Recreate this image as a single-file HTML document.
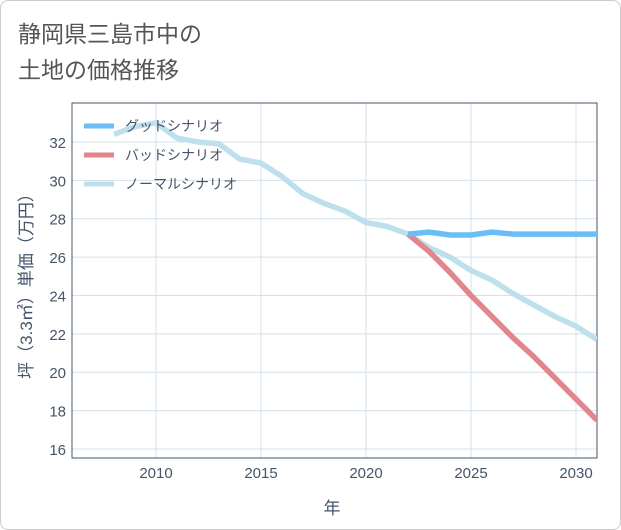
<!DOCTYPE html>
<html><head><meta charset="utf-8"><style>
body{margin:0;background:#fff;font-family:"Liberation Sans","Noto Sans CJK JP",sans-serif}
#card{position:absolute;left:0;top:0;width:619px;height:528px;border:1px solid #ccc;border-radius:8px;background:#fff}
</style></head><body>
<div id="card">
<svg id="chart" width="621" height="530" style="position:absolute;left:-1px;top:-1px"></svg>
</div>
<script>
const years=[2008,2009,2010,2011,2012,2013,2014,2015,2016,2017,2018,2019,2020,2021,2022,2023,2024,2025,2026,2027,2028,2029,2030,2031];
const normal=[32.4,32.8,33.0,32.2,32.0,31.9,31.1,30.9,30.2,29.3,28.8,28.4,27.8,27.6,27.2,26.5,26.0,25.3,24.8,24.1,23.5,22.9,22.4,21.7];
const fYears=[2022,2023,2024,2025,2026,2027,2028,2029,2030,2031];
const good=[27.2,27.3,27.15,27.15,27.3,27.2,27.2,27.2,27.2,27.2];
const bad=[27.2,26.3,25.2,24.0,22.9,21.8,20.8,19.7,18.6,17.5];
const xTicks=[2010,2015,2020,2025,2030];
const yTicks=[16,18,20,22,24,26,28,30,32];
const legendLabels=["グッドシナリオ","バッドシナリオ","ノーマルシナリオ"];
const colors=["#6bbef5","#e0868c","#bde0ec"];
const L=72,R=597,T=103,B=458;
const x=v=>L+(v-2006)*(R-L)/25;
const y=v=>449-(v-16)*19.19;
const svg=document.getElementById('chart');const NS="http://www.w3.org/2000/svg";
function mk(t,a,p){const e=document.createElementNS(NS,t);for(const k in a)e.setAttribute(k,a[k]);(p||svg).appendChild(e);return e;}
let t=mk('text',{x:18,y:42,'font-size':23,fill:'#555'});t.textContent='静岡県三島市中の';

t=mk('text',{x:18,y:78,'font-size':23,fill:'#555'});t.textContent='土地の価格推移';

const clip=mk('clipPath',{id:'c'});mk('rect',{x:L,y:T,width:R-L,height:B-T},clip);
xTicks.forEach(v=>{let l=mk('line',{x1:x(v),x2:x(v),y1:T,y2:B,stroke:'#d5e0ea'});
let tx=mk('text',{x:x(v),y:478,'font-size':15,fill:'#44546a','text-anchor':'middle'});tx.textContent=v;});
yTicks.forEach(v=>{let l=mk('line',{x1:L,x2:R,y1:y(v),y2:y(v),stroke:'#d5e0ea'});
let tx=mk('text',{x:66,y:y(v)+6,'font-size':15,fill:'#44546a','text-anchor':'end'});tx.textContent=v;});
let fr=mk('rect',{x:L,y:T,width:R-L,height:B-T,fill:'none',stroke:'#44546a'});
function line(xs,vs,c,n){const p=mk('polyline',{points:xs.map((v,i)=>x(v)+','+y(vs[i])).join(' '),fill:'none',stroke:c,'stroke-width':5.5,'clip-path':'url(#c)','stroke-linejoin':'round'});}
line(years,normal,colors[2],'normal-line');
line(fYears,bad,colors[1],'bad-line');
line(fYears,good,colors[0],'good-line');
legendLabels.forEach((s,i)=>{const g=mk('g',{});
mk('line',{x1:84,x2:114,y1:126+i*29,y2:126+i*29,stroke:colors[i],'stroke-width':5},g);
const tx=mk('text',{x:125,y:131+i*29,'font-size':14,fill:'#44546a'},g);tx.textContent=s;});
t=mk('text',{x:332,y:514,'font-size':17,fill:'#44546a','text-anchor':'middle'});t.textContent='年';
t=mk('text',{x:0,y:0,'font-size':17,fill:'#44546a','text-anchor':'middle',transform:'translate(32,282) rotate(-90)'});t.textContent='坪（3.3㎡）単価（万円）';
</script>
</body></html>
